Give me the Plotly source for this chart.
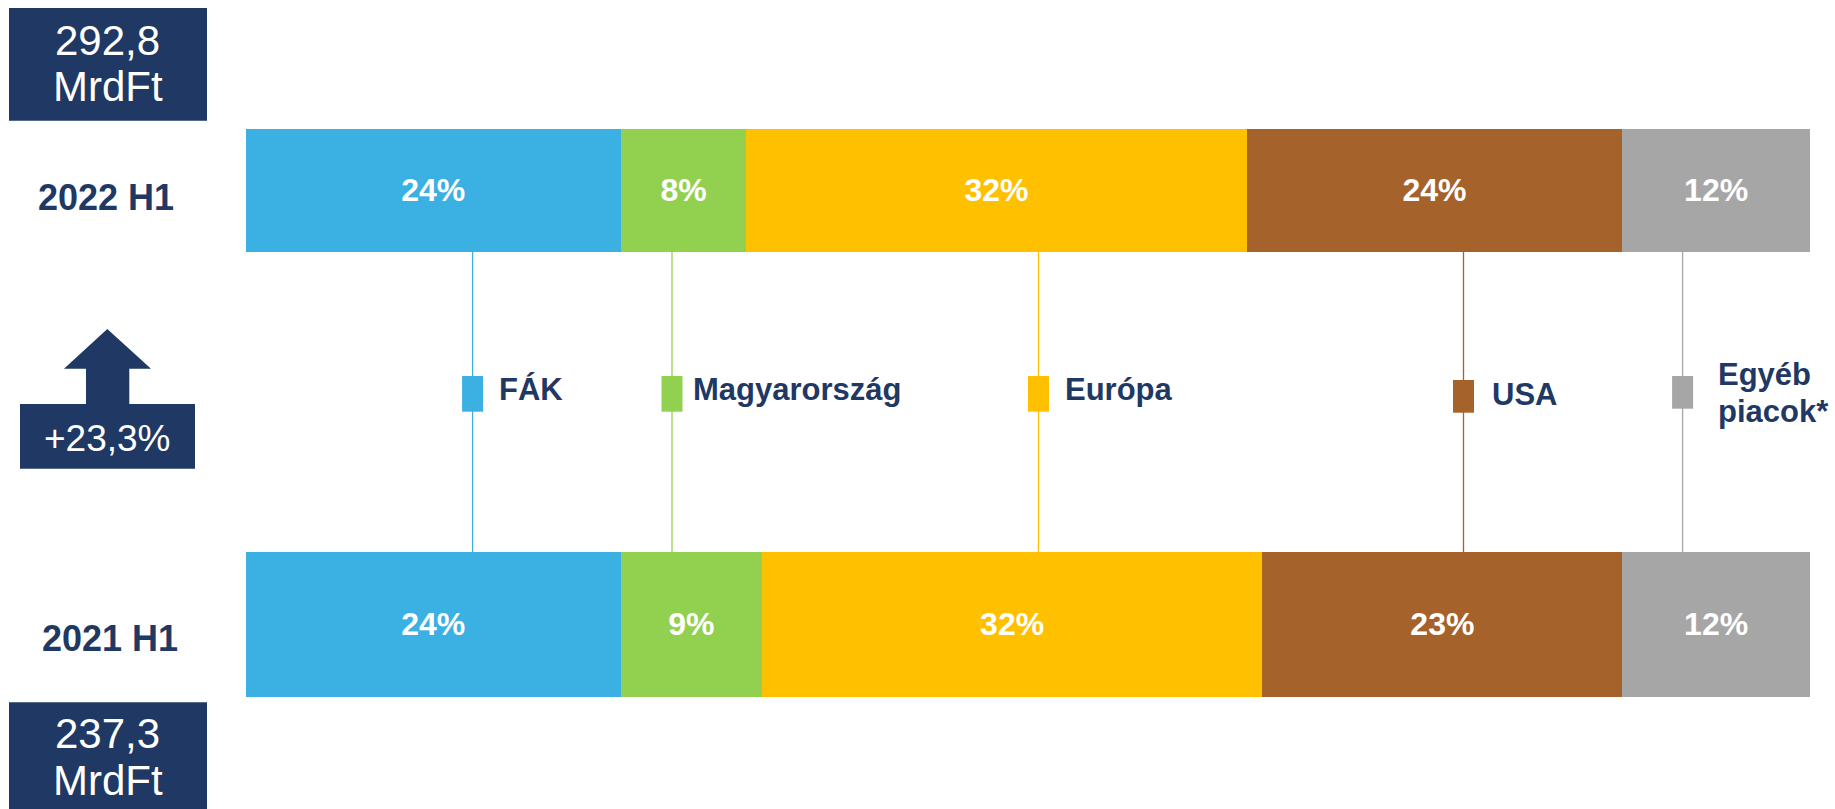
import plotly.graph_objects as go

# ---------------- data ----------------
periods = ["2021 H1", "2022 H1"]
regions = ["FÁK", "Magyarország", "Európa", "USA", "Egyéb piacok*"]
share_2021 = [24, 9, 32, 23, 12]
share_2022 = [24, 8, 32, 24, 12]
total_2021 = "237,3"
total_2022 = "292,8"
unit = "MrdFt"
growth = "+23,3%"

# ---------------- styles / layout constants ----------------
W, H = 1835, 809
NAVY = "#1F3864"
colors = ["#3BB0E3", "#92D050", "#FFC000", "#A5622A", "#A6A6A6"]
FONT = "Liberation Sans, Arial, sans-serif"

BAR_X0, BAR_X1 = 245.5, 1810.0           # pixel extent of the 0..100 axis
TOP_Y0, TOP_Y1 = 128.5, 251.6             # 2022 H1 bar (pixels)
BOT_Y0, BOT_Y1 = 552.4, 696.5             # 2021 H1 bar (pixels)

top_c = (TOP_Y0 + TOP_Y1) / 2
bot_c = (BOT_Y0 + BOT_Y1) / 2
px_per_cat = bot_c - top_c
y_hi = 1 + top_c / px_per_cat
y_lo = -(H - bot_c) / px_per_cat
w_top = (TOP_Y1 - TOP_Y0) / px_per_cat
w_bot = (BOT_Y1 - BOT_Y0) / px_per_cat


def px(x):
    return x / W


def py(y):
    return 1 - y / H


fig = go.Figure()

for i, reg in enumerate(regions):
    fig.add_trace(go.Bar(
        y=periods,
        x=[share_2021[i], share_2022[i]],
        orientation="h",
        name=reg,
        width=[w_bot, w_top],
        marker=dict(color=colors[i], line=dict(width=0)),
        texttemplate="%{x}%",
        textposition="inside",
        insidetextanchor="middle",
        textangle=0,
        constraintext="none",
        textfont=dict(color="white", size=32, family=FONT, weight="bold"),
        hoverinfo="skip",
    ))

shapes = []
annotations = []

# connector lines + legend squares + legend labels
conn_x = [472.6, 672.0, 1038.5, 1463.5, 1682.6]
sq_y = [(376, 411.7), (376, 411.7), (376, 411.7), (380, 412.7), (376, 408.7)]
label_x = [497, 691, 1063, 1490, 1715.5]
label_y = [389.5, 389.5, 389.5, 394.0, None]
for i, reg in enumerate(regions):
    shapes.append(dict(type="line", xref="paper", yref="paper",
                       x0=px(conn_x[i]), x1=px(conn_x[i]),
                       y0=py(TOP_Y1), y1=py(BOT_Y0),
                       line=dict(color=colors[i], width=1.3), layer="below"))
    shapes.append(dict(type="rect", xref="paper", yref="paper",
                       x0=px(conn_x[i] - 10.5), x1=px(conn_x[i] + 10.5),
                       y0=py(sq_y[i][1]), y1=py(sq_y[i][0]),
                       fillcolor=colors[i], line=dict(width=0), layer="above"))

for i, reg in enumerate(regions[:4]):
    annotations.append(dict(text=reg, xref="paper", yref="paper",
                            x=px(label_x[i]), y=py(label_y[i]),
                            xanchor="left", yanchor="middle", showarrow=False,
                            font=dict(family=FONT, size=31, color=NAVY, weight="bold")))
egyeb_lines = regions[4].split(" ")
for txt, yy in zip(egyeb_lines, [374.2, 411.5]):
    annotations.append(dict(text=txt, xref="paper", yref="paper",
                            x=px(label_x[4]), y=py(yy),
                            xanchor="left", yanchor="middle", showarrow=False,
                            font=dict(family=FONT, size=31, color=NAVY, weight="bold")))

# period labels
for txt, xx, yy in [(periods[1], 105.5, 197.8), (periods[0], 109.5, 638.5)]:
    annotations.append(dict(text=txt, xref="paper", yref="paper",
                            x=px(xx), y=py(yy), xanchor="center", yanchor="middle",
                            showarrow=False,
                            font=dict(family=FONT, size=36, color=NAVY, weight="bold")))

# total boxes
shapes.append(dict(type="rect", xref="paper", yref="paper",
                   x0=px(9), x1=px(207), y0=py(120.7), y1=py(8),
                   fillcolor=NAVY, line=dict(width=0)))
shapes.append(dict(type="rect", xref="paper", yref="paper",
                   x0=px(9), x1=px(207), y0=py(H + 5), y1=py(702.3),
                   fillcolor=NAVY, line=dict(width=0)))
for txt, xx, yy in [(total_2022, 107, 41), (unit, 107.5, 86),
                    (total_2021, 107, 733), (unit, 107.5, 780)]:
    annotations.append(dict(text=txt, xref="paper", yref="paper",
                            x=px(xx), y=py(yy), xanchor="center", yanchor="middle",
                            showarrow=False,
                            font=dict(family=FONT, size=42, color="white")))

# growth arrow + box
arrow_pts = [(107.3, 329), (151, 368.7), (129.3, 368.7), (129.3, 405),
             (86, 405), (86, 368.7), (64, 368.7)]
path = "M " + " L ".join(f"{px(x):.6f},{py(y):.6f}" for x, y in arrow_pts) + " Z"
shapes.append(dict(type="path", xref="paper", yref="paper", path=path,
                   fillcolor=NAVY, line=dict(width=0)))
shapes.append(dict(type="rect", xref="paper", yref="paper",
                   x0=px(20), x1=px(195), y0=py(468.7), y1=py(404),
                   fillcolor=NAVY, line=dict(width=0)))
annotations.append(dict(text=growth, xref="paper", yref="paper",
                        x=px(107), y=py(438), xanchor="center", yanchor="middle",
                        showarrow=False,
                        font=dict(family=FONT, size=37, color="white")))

fig.update_layout(
    width=W, height=H,
    margin=dict(l=0, r=0, t=0, b=0),
    barmode="stack",
    showlegend=False,
    paper_bgcolor="white",
    plot_bgcolor="white",
    xaxis=dict(range=[0, 100], domain=[px(BAR_X0), px(BAR_X1)],
               visible=False, fixedrange=True),
    yaxis=dict(type="category", categoryorder="array", categoryarray=periods,
               range=[y_lo, y_hi], visible=False, fixedrange=True),
    shapes=shapes,
    annotations=annotations,
)

fig.write_html(
    "out.html",
    config={"displayModeBar": False},
    post_script="document.body.style.margin='0';document.body.style.overflow='hidden';",
)
